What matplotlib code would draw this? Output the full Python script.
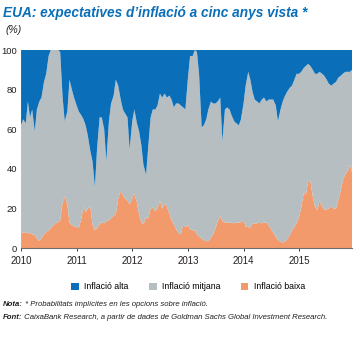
import matplotlib
matplotlib.use("Agg")
import matplotlib.pyplot as plt
from matplotlib.patches import Patch
import numpy as np
import pandas as pd

# semi-monthly observations, Jan 2010 - Dec 2015
dates = pd.date_range("2010-01-01", periods=144, freq="SMS")

# probability of low inflation (%)
baixa = [7.4, 8, 7.5, 8, 7.5, 7, 6.5, 5, 3.5, 5, 7, 8, 9, 10, 11.5, 12.5, 13, 14, 23, 26,
         22, 13, 11.6, 11, 10.8, 10, 15, 21, 18, 20, 21, 12, 9, 10, 12, 13, 12.5, 13.5, 14, 15,
         16.5, 17, 25, 28.5, 27, 25, 24, 22, 25, 27.6, 23, 17, 13, 12, 15.5, 15, 20, 20.5, 18.5, 20,
         24, 20, 22.5, 21, 17.5, 14, 12, 9.5, 7.5, 7, 12, 10.5, 11.6, 9.5, 9, 8.8, 7, 5.8, 4.8, 4,
         3.5, 3.5, 5, 7, 10, 13.5, 16.2, 13.5, 13, 12.8, 12.8, 12.8, 12.5, 13, 12.8, 13, 14, 11, 10.5, 10.5,
         12.3, 12.5, 12.5, 12.8, 12.5, 12.8, 13, 11.5, 9.5, 7.8, 5.5, 4.2, 3.2, 2.8, 3.3, 4.5, 6.5, 8.8, 10.8, 12.5,
         15.8, 20.5, 28, 27, 33.5, 34, 26, 21, 19, 24, 21, 19.5, 19.5, 20, 21, 20, 20, 24, 29, 34,
         37.7, 38.5, 42, 38]

# probability of high inflation (%)
alta = [38, 35, 37, 26, 34, 30, 41, 30, 26, 24, 16, 12, 3, 0, 0, 0, 0, 1, 24, 36,
        31, 15, 20, 24, 28, 31, 33, 35, 38, 43, 51, 56, 69, 50, 34, 34, 40, 56, 36, 27,
        23, 15, 18, 24, 30, 32, 34, 50, 36, 30, 37, 41, 48, 58, 63, 49, 34, 30, 30, 28,
        22, 24, 22, 24, 23, 25, 29, 27, 27, 28, 29, 30, 14, 3, 3, 0, 1, 12, 39, 38,
        35, 30, 26, 27, 27, 26, 24, 46, 30, 29, 30, 33, 36, 37, 38, 35, 27, 18, 11, 15,
        21, 25, 26, 27, 25, 24, 26, 25, 25, 25, 28, 36, 30, 26, 23, 21, 19, 18, 15, 12,
        12, 11, 9, 8, 7, 8, 10, 12, 12, 11, 12, 13, 15, 17, 18, 17, 16, 14, 13, 12,
        11, 11, 11, 10]

baixa = np.array(baixa)
alta = np.array(alta)
mitjana = 100 - baixa - alta

labels = ["Inflació alta", "Inflació mitjana", "Inflació baixa"]
c_alta = "#0a6fb8"
c_mitj = "#b6bec1"
c_baixa = "#f29a6b"

plt.rcParams["font.family"] = ["Liberation Sans", "DejaVu Sans"]

fig = plt.figure(figsize=(3.63, 3.38), dpi=100)
ax = fig.add_axes([0.058, 0.266, 0.912, 0.586])

ax.stackplot(dates, baixa, mitjana, alta, colors=[c_baixa, c_mitj, c_alta], linewidth=0)

ax.set_xlim(dates[0], dates[-1])
ax.set_ylim(0, 100)
ax.set_yticks(range(0, 101, 20))
years = pd.to_datetime([f"{y}-01-01" for y in range(2010, 2016)])
ax.set_xticks(years)
ax.set_xticklabels([str(y.year) for y in years])

for s in ["top", "right", "left"]:
    ax.spines[s].set_visible(False)
ax.spines["bottom"].set_color("#6d6e71")
ax.spines["bottom"].set_linewidth(0.8)
ax.tick_params(axis="y", length=0, labelsize=6.8, colors="#231f20", pad=3)
ax.tick_params(axis="x", length=2.5, width=0.6, color="#231f20", labelsize=7, colors="#231f20", pad=3)

fig.text(0.008, 0.963, "EUA: expectatives d\u2019inflació a cinc anys vista *", fontsize=9.8,
         fontweight="bold", style="italic", color="#0a6fb8", va="center", ha="left")
fig.text(0.015, 0.91, "(%)", fontsize=7.5, style="italic", color="#231f20", va="center", ha="left")

handles = [Patch(facecolor=c, edgecolor="none") for c in [c_alta, c_mitj, c_baixa]]
fig.legend(handles, labels, loc="center", bbox_to_anchor=(0.518, 0.151), ncol=3, frameon=False,
           fontsize=6.3, handlelength=0.9, handleheight=0.9, handletextpad=0.6, columnspacing=2.3)

# notes: bold lead-in followed by italic text
fig.canvas.draw()
renderer = fig.canvas.get_renderer()
for ypos, lead, rest in [(0.099, "Nota:", " * Probabilitats implícites en les opcions sobre inflació."),
                         (0.06, "Font:", " CaixaBank Research, a partir de dades de Goldman Sachs Global Investment Research.")]:
    t = fig.text(0.008, ypos, lead, fontsize=5.6, fontweight="bold", style="italic", color="#231f20", va="center")
    bb = t.get_window_extent(renderer=renderer)
    fig.text(bb.x1 / fig.bbox.width, ypos, rest, fontsize=5.6, style="italic", color="#231f20", va="center")

fig.savefig("out.png", dpi=100)
